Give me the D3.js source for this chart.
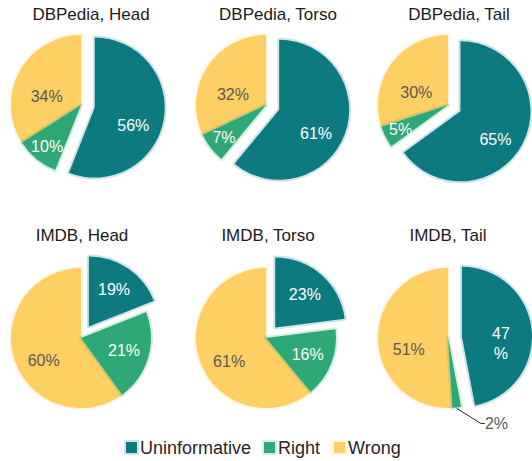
<!DOCTYPE html>
<html><head><meta charset="utf-8">
<script src="https://cdn.jsdelivr.net/npm/d3@7"></script>
<style>body{margin:0;background:#fff}svg{display:block}</style>
</head><body>
<svg id="chart" width="532" height="461"></svg>
<script>
const categories = ["Uninformative", "Right", "Wrong"];
const datasets = ["DBPedia", "IMDB"];
const segments = ["Head", "Torso", "Tail"];
const dbpediaValues = [[56, 10, 34], [61, 7, 32], [65, 5, 30]];
const imdbValues = [[19, 21, 60], [23, 16, 61], [47, 2, 51]];
const colors = ["#0d7a80", "#2ea876", "#fecf63"];
const labelColors = ["#ffffff", "#ffffff", "#595959"];

const W = 532, H = 461;
const svg = d3.select("#chart");
const R = 70, explode = 14;
const colX = [81, 266, 448];
const rowY = [105, 338];
const titleX = [[91, 278, 459], [82, 268, 448]];
const titleY = [20, 241];
const font = "'Liberation Sans', Arial, sans-serif";

const color = d3.scaleOrdinal().domain(categories).range(colors);
const pie = d3.pie().sort(null).value(d => d.value);
const arc = d3.arc().innerRadius(0).outerRadius(R);

const allValues = [dbpediaValues, imdbValues];

allValues.forEach((rows, ri) => {
  rows.forEach((vals, ci) => {
    const data = categories.map((c, i) => ({cat: c, value: vals[i], idx: i}));
    const arcs = pie(data);
    const total = d3.sum(vals);
    const g = svg.append("g").attr("transform", `translate(${colX[ci]},${rowY[ri]})`);
    svg.append("text")
      .attr("x", titleX[ri][ci]).attr("y", titleY[ri])
      .attr("text-anchor", "middle")
      .attr("font-family", font).attr("font-size", 17)
      .attr("fill", "#1a1a1a")
      .text(`${datasets[ri]}, ${segments[ci]}`);
    const order = [2, 1, 0];
    order.forEach(i => {
      const a = arcs[i];
      const mid = (a.startAngle + a.endAngle) / 2;
      const off = i === 0 ? explode : 0;
      const ox = Math.sin(mid) * off, oy = -Math.cos(mid) * off;
      g.append("path")
        .attr("d", arc(a))
        .attr("transform", `translate(${ox},${oy})`)
        .attr("fill", color(a.data.cat))
        .attr("stroke", color(a.data.cat))
        .attr("stroke-opacity", 0.2)
        .attr("stroke-width", 4)
        .attr("stroke-linejoin", "round");
    });
    arcs.forEach((a, i) => {
      const mid = (a.startAngle + a.endAngle) / 2;
      const off = i === 0 ? explode : 0;
      const ox = Math.sin(mid) * off, oy = -Math.cos(mid) * off;
      const frac = a.data.value / total;
      const txt = a.data.value + "%";
      if (frac < 0.03) {
        const sx = ox + Math.sin(mid) * (R + 1), sy = oy - Math.cos(mid) * (R + 1);
        const ex = sx + 24, ey = sy + 15;
        g.append("path")
          .attr("d", `M${sx},${sy}L${ex},${ey}L${ex + 4},${ey}`)
          .attr("fill", "none").attr("stroke", "#262626").attr("stroke-width", 1);
        g.append("text")
          .attr("x", ex + 4).attr("y", ey)
          .attr("dy", "0.35em")
          .attr("font-family", font).attr("font-size", 16)
          .attr("fill", "#595959")
          .text(txt);
        return;
      }
      const big = frac >= 0.25;
      const lr = frac < 0.12 ? R * 0.76 : (big ? R * 0.56 : R * 0.64);
      const lx = ox + Math.sin(mid) * lr;
      const ly = oy - Math.cos(mid) * lr + (big ? 10 : 0);
      const t = g.append("text")
        .attr("text-anchor", "middle")
        .attr("font-family", font).attr("font-size", 16)
        .attr("fill", labelColors[i]);
      const absX = colX[ci] + lx;
      if (absX > 498) {
        t.append("tspan").attr("x", lx).attr("y", ly - 10).attr("dy", "0.35em").text(String(a.data.value));
        t.append("tspan").attr("x", lx).attr("y", ly + 10).attr("dy", "0.35em").text("%");
      } else {
        t.attr("x", lx).attr("y", ly).attr("dy", "0.35em").text(txt);
      }
    });
  });
});

const legend = svg.append("g").attr("transform", "translate(0,448)");
const legendX = [125, 263, 333];
categories.forEach((c, i) => {
  const lg = legend.append("g").attr("transform", `translate(${legendX[i]},0)`);
  lg.append("rect")
    .attr("x", 1).attr("y", -6).attr("width", 11).attr("height", 11)
    .attr("fill", color(c))
    .attr("stroke", color(c)).attr("stroke-opacity", 0.2).attr("stroke-width", 4);
  lg.append("text")
    .attr("x", 15).attr("y", 0).attr("dy", "0.35em")
    .attr("font-family", font).attr("font-size", 18)
    .attr("fill", "#262626")
    .text(c);
});
</script>
</body></html>
